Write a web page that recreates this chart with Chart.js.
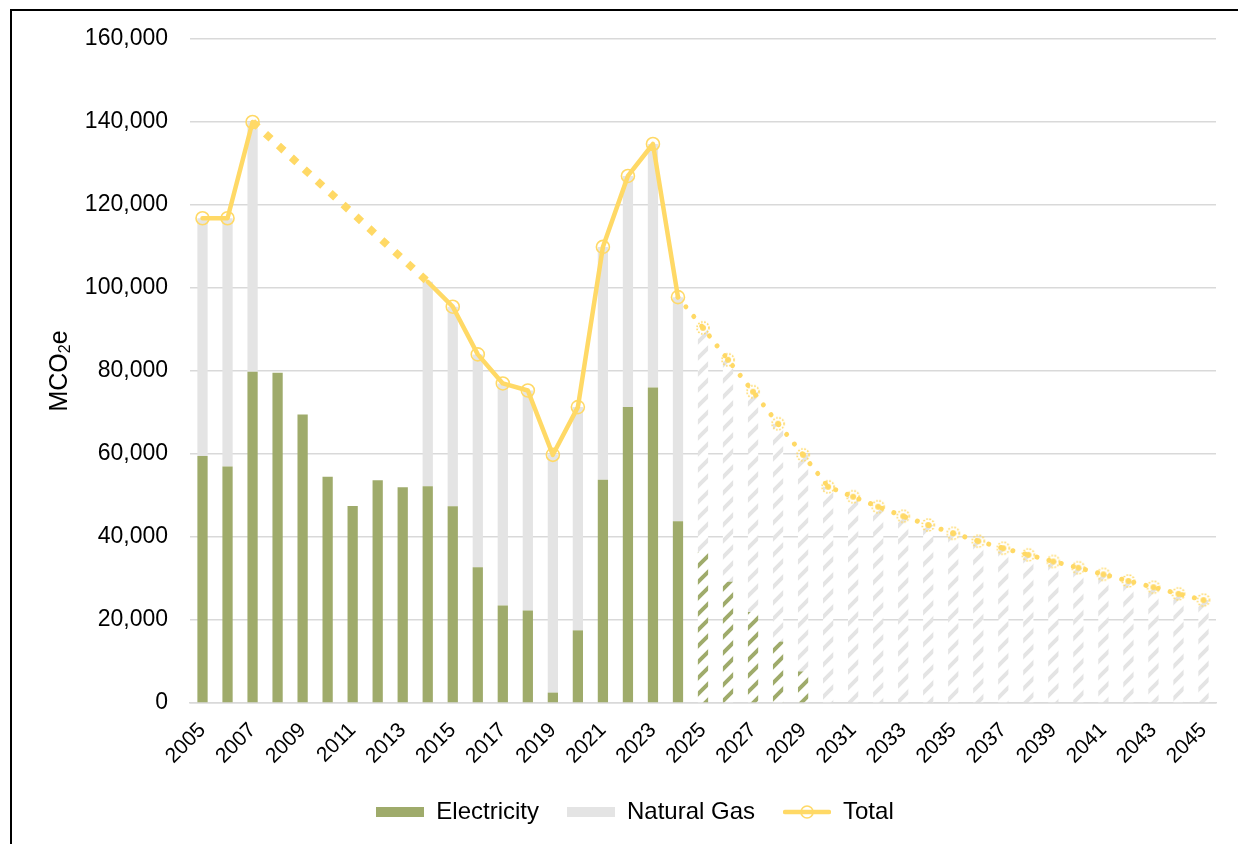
<!DOCTYPE html>
<html>
<head>
<meta charset="utf-8">
<title>Electricity and Natural Gas Emissions</title>
<script src="https://cdn.jsdelivr.net/npm/chart.js@4/dist/chart.umd.min.js"></script>
<style>
  html, body { margin: 0; padding: 0; background: #fff; }
  #wrap { position: relative; width: 1238px; height: 844px; overflow: hidden; }
  #frame { position: absolute; left: 10px; top: 9px; width: 1300px; height: 900px;
           border-left: 2px solid #000; border-top: 2px solid #000; }
  #c { position: absolute; left: 0; top: 0; }
</style>
</head>
<body>
<div id="wrap">
  <div id="frame"></div>
  <canvas id="c" width="1238" height="844"></canvas>
</div>
<script>
// Years on the category axis
const years = ['2005','2006','2007','2008','2009','2010','2011','2012','2013','2014',
               '2015','2016','2017','2018','2019','2020','2021','2022','2023','2024',
               '2025','2026','2027','2028','2029','2030','2031','2032','2033','2034',
               '2035','2036','2037','2038','2039','2040','2041','2042','2043','2044','2045'];

// Electricity emissions (MCO2e)
const electricity = [59500, 57000, 79800, 79600, 69500, 54500, 47500, 53700, 52000, 52200,
                     47400, 32700, 23500, 22300, 2500, 17500, 53800, 71300, 76000, 43800,
                     36400, 29200, 21900, 14800, 7600, 0, 0, 0, 0, 0,
                     0, 0, 0, 0, 0, 0, 0, 0, 0, 0, 0];

// Natural gas emissions (MCO2e); no gas data for 2008-2013
const naturalGas = [57300, 59800, 60200, null, null, null, null, null, null, 49300,
                    48100, 51300, 53500, 53000, 57300, 53800, 56100, 55700, 58700, 54000,
                    54000, 53500, 53100, 52500, 52200, 52100, 49700, 47300, 45000, 42900,
                    40900, 39000, 37300, 35700, 34100, 32600, 31000, 29400, 27900, 26300, 24800];

// Combined total (MCO2e)
const total = [116800, 116800, 140000, null, null, null, null, null, null, 101500,
               95500, 84000, 77000, 75300, 59800, 71300, 109900, 127000, 134700, 97800,
               90400, 82700, 75000, 67300, 59800, 52100, 49700, 47300, 45000, 42900,
               40900, 39000, 37300, 35700, 34100, 32600, 31000, 29400, 27900, 26300, 24800];

// Value axis ticks
const yTicks = [0, 20000, 40000, 60000, 80000, 100000, 120000, 140000, 160000];

const FIRST_PROJECTED = years.indexOf('2025');
const NO_MARKER = years.indexOf('2014');

const GREEN = '#9FAB6B';
const GREY = '#E4E4E4';
const GOLD = '#FFD966';
const GRID = '#D9D9D9';
const FONT = '"Liberation Sans", Arial, sans-serif';
const LEGEND_SHIFT = 27;

const canvas = document.getElementById('c');
const ctx2d = canvas.getContext('2d');

// Diagonal hatch used for projected years
function hatch(color) {
  const s = 16;
  const t = document.createElement('canvas');
  t.width = t.height = s;
  const g = t.getContext('2d');
  g.fillStyle = '#fff';
  g.fillRect(0, 0, s, s);
  g.strokeStyle = color;
  g.lineWidth = 4;
  g.beginPath();
  for (const o of [-s, 0, s]) { g.moveTo(o - 2, s + 2); g.lineTo(o + s + 2, -2); }
  g.stroke();
  return ctx2d.createPattern(t, 'repeat');
}
const greenHatch = hatch(GREEN);
const greyHatch = hatch(GREY);

// Marker for projected totals: dotted ring with a filled centre
function dottedMarker() {
  const m = document.createElement('canvas');
  m.width = m.height = 16;
  const g = m.getContext('2d');
  g.strokeStyle = GOLD;
  g.lineWidth = 1.6;
  g.setLineDash([1.6, 1.6]);
  g.beginPath(); g.arc(8, 8, 6, 0, Math.PI * 2); g.stroke();
  g.setLineDash([]);
  g.fillStyle = GOLD;
  g.beginPath(); g.arc(8, 8, 3, 0, Math.PI * 2); g.fill();
  return m;
}
const projMarker = dottedMarker();

// Legend swatches
function swatch(color) {
  const c = document.createElement('canvas');
  c.width = 48; c.height = 10;
  const g = c.getContext('2d');
  g.fillStyle = color; g.fillRect(0, 0, 48, 10);
  return c;
}
function lineSwatch() {
  const c = document.createElement('canvas');
  c.width = 48; c.height = 16;
  const g = c.getContext('2d');
  g.strokeStyle = GOLD; g.lineWidth = 4.5; g.lineCap = 'round';
  g.beginPath(); g.moveTo(2, 8); g.lineTo(46, 8); g.stroke();
  g.lineWidth = 1.6;
  g.beginPath(); g.arc(24, 8, 6, 0, Math.PI * 2); g.stroke();
  return c;
}

// Rotated axis title with a subscript
const yTitle = {
  id: 'yTitle',
  afterDraw(chart) {
    const ctx = chart.ctx;
    const area = chart.chartArea;
    const big = '25px ' + FONT, small = '16px ' + FONT;
    ctx.save();
    ctx.font = big;
    const w1 = ctx.measureText('MCO').width, w3 = ctx.measureText('e').width;
    ctx.font = small;
    const w2 = ctx.measureText('2').width;
    ctx.translate(area.left - 130, (area.top + area.bottom) / 2);
    ctx.rotate(-Math.PI / 2);
    ctx.fillStyle = '#000';
    ctx.textBaseline = 'middle';
    ctx.textAlign = 'left';
    let x = -(w1 + w2 + w3) / 2;
    ctx.font = big; ctx.fillText('MCO', x, 0); x += w1;
    ctx.font = small; ctx.fillText('2', x, 6); x += w2;
    ctx.font = big; ctx.fillText('e', x, 0);
    ctx.restore();
  }
};

// Nudge the legend row so it sits under the plot
const legendOffset = {
  id: 'legendOffset',
  afterLayout(chart) {
    const l = chart.legend;
    if (l) { l.left += LEGEND_SHIFT; l.right += LEGEND_SHIFT; }
  }
};

// A segment that bridges missing years
const isGap = c => total[c.p1DataIndex - 1] === null;
const isProjected = c => c.p0DataIndex >= FIRST_PROJECTED - 1;

new Chart(canvas, {
  type: 'bar',
  data: {
    labels: years,
    datasets: [
      {
        type: 'line',
        label: 'Total',
        data: total,
        order: -1,
        spanGaps: true,
        borderColor: GOLD,
        borderWidth: 4.5,
        borderCapStyle: 'round',
        borderJoinStyle: 'round',
        tension: 0,
        segment: {
          borderDash: c => isProjected(c) ? [0.001, 12.5] : (isGap(c) ? [7.5, 10] : []),
          borderWidth: c => isProjected(c) ? 5 : (isGap(c) ? 7.5 : 4.5),
          borderCapStyle: c => isGap(c) ? 'butt' : 'round'
        },
        pointRadius: c => c.dataIndex === NO_MARKER ? 0 : 6.5,
        pointStyle: c => c.dataIndex >= FIRST_PROJECTED ? projMarker : 'circle',
        pointBorderWidth: 1.6,
        pointBorderColor: GOLD,
        pointBackgroundColor: 'rgba(0,0,0,0)'
      },
      {
        label: 'Electricity',
        data: electricity,
        stack: 's',
        backgroundColor: c => c.dataIndex >= FIRST_PROJECTED ? greenHatch : GREEN,
        borderWidth: 0,
        barPercentage: 0.41,
        categoryPercentage: 1
      },
      {
        label: 'Natural Gas',
        data: naturalGas,
        stack: 's',
        backgroundColor: c => c.dataIndex >= FIRST_PROJECTED ? greyHatch : GREY,
        borderWidth: 0,
        barPercentage: 0.41,
        categoryPercentage: 1
      }
    ]
  },
  options: {
    responsive: false,
    devicePixelRatio: 1,
    animation: false,
    layout: { padding: { left: 0, right: 22, top: 39, bottom: 10 } },
    plugins: {
      tooltip: { enabled: false },
      legend: {
        position: 'bottom',
        align: 'center',
        labels: {
          usePointStyle: true,
          pointStyleWidth: 48,
          padding: 28,
          color: '#000',
          font: { family: FONT, size: 24 },
          generateLabels: () => [
            { text: 'Electricity', pointStyle: swatch(GREEN), datasetIndex: 1, hidden: false, lineWidth: 0, fontColor: '#000' },
            { text: 'Natural Gas', pointStyle: swatch(GREY), datasetIndex: 2, hidden: false, lineWidth: 0, fontColor: '#000' },
            { text: 'Total', pointStyle: lineSwatch(), datasetIndex: 0, hidden: false, lineWidth: 0, fontColor: '#000' }
          ]
        }
      }
    },
    scales: {
      x: {
        stacked: true,
        grid: { display: false },
        border: { display: true, color: GRID, width: 1.5 },
        ticks: {
          autoSkip: false,
          minRotation: 45,
          maxRotation: 45,
          padding: 7,
          color: '#000',
          font: { family: FONT, size: 21 },
          callback: (v, i) => (i % 2 === 0 ? years[i] : '')
        },
        afterFit: s => { s.height = 69; }
      },
      y: {
        stacked: true,
        min: yTicks[0],
        max: yTicks[yTicks.length - 1],
        afterBuildTicks: s => { s.ticks = yTicks.map(v => ({ value: v })); },
        grid: { color: GRID, lineWidth: 1.5, drawTicks: false },
        border: { display: false },
        ticks: {
          padding: 22,
          color: '#000',
          font: { family: FONT, size: 23 },
          callback: v => v.toLocaleString('en-US')
        },
        afterFit: s => { s.width = 190; }
      }
    }
  },
  plugins: [yTitle, legendOffset]
});
</script>
</body>
</html>
